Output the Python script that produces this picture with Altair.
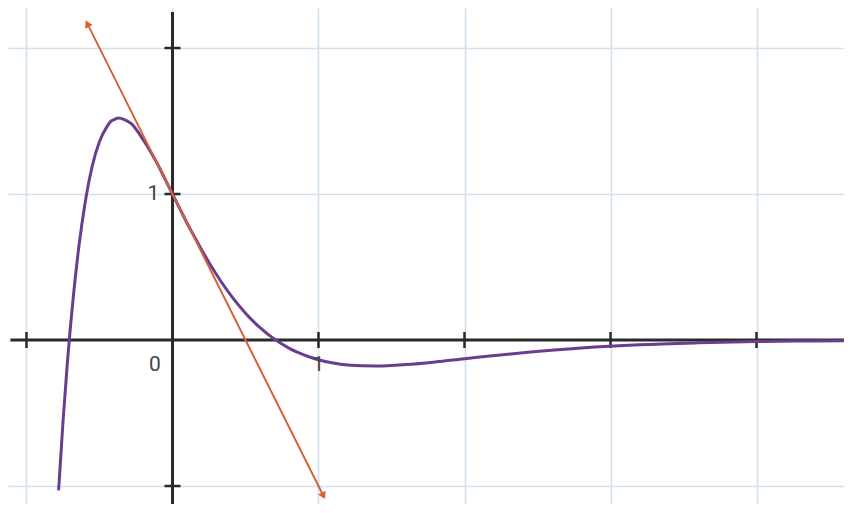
import altair as alt
import pandas as pd

# ---- data ----
curve_x = [-0.78, -0.75, -0.72, -0.68, -0.64, -0.60, -0.55, -0.50, -0.45, -0.42,
           -0.40, -0.37, -0.33, -0.28, -0.24, -0.20, -0.15, -0.10, -0.05, 0.00,
           0.05, 0.10, 0.15, 0.20, 0.25, 0.30, 0.35, 0.40, 0.45, 0.50,
           0.55, 0.60, 0.65, 0.70, 0.75, 0.80, 0.85, 0.90, 0.95, 1.00,
           1.10, 1.20, 1.30, 1.40, 1.60, 1.80, 2.00, 2.40, 2.80, 3.20,
           3.60, 4.00, 4.40, 4.70]
curve_y = [-1.03, -0.56, -0.155, 0.29, 0.65, 0.93, 1.19, 1.36, 1.46, 1.50,
           1.51, 1.52, 1.51, 1.48, 1.43, 1.37, 1.29, 1.20, 1.10, 1.00,
           0.90, 0.80, 0.707, 0.617, 0.531, 0.45, 0.375, 0.306, 0.242, 0.184,
           0.131, 0.084, 0.042, 0.005, -0.028, -0.057, -0.081, -0.102, -0.12, -0.135,
           -0.157, -0.171, -0.177, -0.178, -0.168, -0.15, -0.128, -0.087, -0.054, -0.032,
           -0.019, -0.010, -0.006, -0.004]

tangent_x = [-0.58, 1.03]
tangent_y = [2.16, -1.06]

grid_x = [-1, 0, 1, 2, 3, 4]
grid_y = [-1, 0, 1, 2]
tick_x = [-1, 1, 2, 3, 4]
tick_y = [-1, 1, 2]

label_text = ["1", "0", "1"]
label_x = [-0.13, -0.12, 1.0]
label_y = [1.0, -0.17, -0.17]

X_DOM = [-1.1267, 4.5993]
Y_DOM = [-1.1233, 2.2740]
x_axis_span = [-1.11, 4.7]
y_axis_span = [-1.2, 2.247]

W, H = 836, 496
TL = 0.055  # tick half-length (data units)

xs = alt.Scale(domain=X_DOM, nice=False, zero=False)
ys = alt.Scale(domain=Y_DOM, nice=False, zero=False)

curve_df = pd.DataFrame({"x": curve_x, "y": curve_y, "o": range(len(curve_x))})
tan_df = pd.DataFrame({"x": tangent_x, "y": tangent_y})

GRID = "#cfe1ee"
grid_axis_x = alt.Axis(values=grid_x, grid=True, gridColor=GRID, gridWidth=1.6,
                       labels=False, ticks=False, domain=False, title=None)
grid_axis_y = alt.Axis(values=grid_y, grid=True, gridColor=GRID, gridWidth=1.6,
                       labels=False, ticks=False, domain=False, title=None)

base_grid = alt.Chart(pd.DataFrame({"x": [0.0], "y": [0.0]})).mark_point(opacity=0).encode(
    x=alt.X("x:Q", scale=xs, axis=grid_axis_x),
    y=alt.Y("y:Q", scale=ys, axis=grid_axis_y),
)

AX = "#2a2a2a"
xaxis = alt.Chart(pd.DataFrame({"x": [x_axis_span[0]], "x2": [x_axis_span[1]], "y": [0.0]})).mark_rule(
    color=AX, strokeWidth=3, clip=True).encode(
    x=alt.X("x:Q", scale=xs), x2="x2:Q", y=alt.Y("y:Q", scale=ys))
yaxis = alt.Chart(pd.DataFrame({"y": [y_axis_span[0]], "y2": [y_axis_span[1]], "x": [0.0]})).mark_rule(
    color=AX, strokeWidth=3, clip=True).encode(
    y=alt.Y("y:Q", scale=ys), y2="y2:Q", x=alt.X("x:Q", scale=xs))

xt_df = pd.DataFrame({"x": tick_x, "y": [-TL] * len(tick_x), "y2": [TL] * len(tick_x)})
xticks = alt.Chart(xt_df).mark_rule(color=AX, strokeWidth=2.5).encode(
    x=alt.X("x:Q", scale=xs), y=alt.Y("y:Q", scale=ys), y2="y2:Q")
yt_df = pd.DataFrame({"y": tick_y, "x": [-TL] * len(tick_y), "x2": [TL] * len(tick_y)})
yticks = alt.Chart(yt_df).mark_rule(color=AX, strokeWidth=2.5).encode(
    y=alt.Y("y:Q", scale=ys), x=alt.X("x:Q", scale=xs), x2="x2:Q")

labels = alt.Chart(pd.DataFrame({"t": label_text, "x": label_x, "y": label_y})).mark_text(
    font="Roboto", fontSize=21, color="#444444", align="center", baseline="middle").encode(
    x=alt.X("x:Q", scale=xs), y=alt.Y("y:Q", scale=ys), text="t:N")

curve = alt.Chart(curve_df).mark_line(color="#6a3d8e", strokeWidth=3, interpolate="monotone",
                                       clip=True).encode(
    x=alt.X("x:Q", scale=xs), y=alt.Y("y:Q", scale=ys), order="o:Q")

TAN = "#d9603b"
tangent = alt.Chart(tan_df).mark_line(color=TAN, strokeWidth=2).encode(
    x=alt.X("x:Q", scale=xs), y=alt.Y("y:Q", scale=ys))

arrow_top = alt.Chart(tan_df.iloc[[0]]).mark_point(
    shape="triangle", filled=True, color=TAN, opacity=1, size=70, angle=333.4).encode(
    x=alt.X("x:Q", scale=xs), y=alt.Y("y:Q", scale=ys))
arrow_bot = alt.Chart(tan_df.iloc[[1]]).mark_point(
    shape="triangle", filled=True, color=TAN, opacity=1, size=70, angle=153.4).encode(
    x=alt.X("x:Q", scale=xs), y=alt.Y("y:Q", scale=ys))

chart = alt.layer(base_grid, xaxis, yaxis, xticks, yticks, curve, tangent, arrow_top, arrow_bot,
                  labels).properties(
    width=W, height=H, padding=0, background="white",
    autosize=alt.AutoSizeParams(type="fit", contains="padding"),
).configure_view(stroke=None)

chart.save("out.html", embed_options={"renderer": "svg", "actions": False})
